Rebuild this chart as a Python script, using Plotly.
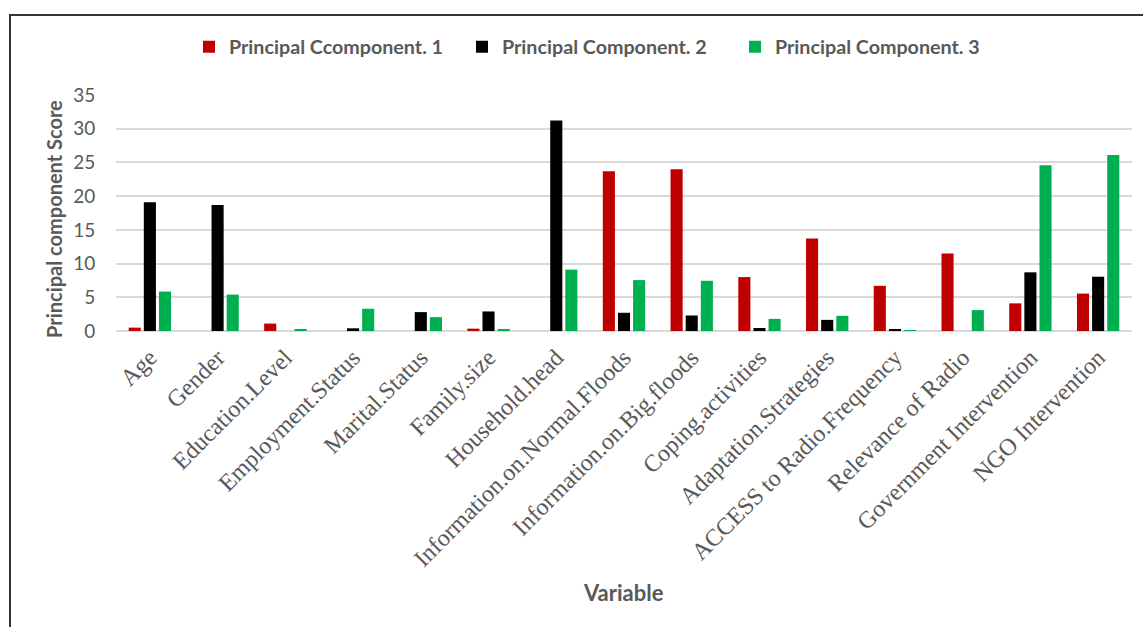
import plotly.graph_objects as go

categories = ["Age", "Gender", "Education.Level", "Employment.Status", "Marital.Status",
              "Family.size", "Household.head", "Information.on.Normal.Floods",
              "Information.on.Big.floods", "Coping.activities", "Adaptation.Strategies",
              "ACCESS to Radio.Frequency", "Relevance of Radio", "Government Intervention",
              "NGO Intervention"]
pc1 = [0.5, 0, 1.1, 0, 0, 0.35, 0, 23.7, 24.0, 8.0, 13.7, 6.7, 11.5, 4.1, 5.55]
pc2 = [19.1, 18.7, 0, 0.4, 2.8, 2.9, 31.2, 2.7, 2.3, 0.45, 1.65, 0.25, 0, 8.7, 8.05]
pc3 = [5.85, 5.4, 0.25, 3.3, 2.05, 0.25, 9.1, 7.55, 7.45, 1.8, 2.25, 0.05, 3.1, 24.6, 26.1]
series_names = ["Principal Ccomponent. 1", "Principal Component. 2", "Principal Component. 3"]
colors = ["#C00000", "#000000", "#00B050"]
y_ticks = [0, 5, 10, 15, 20, 25, 30, 35]

W, H = 1143, 627
L, R, T, B = 116, 11, 95, 296
pw, ph = W - L - R, H - T - B

def px_x(x):
    return (x - L) / pw

def px_y(y):
    return (H - B - y) / ph

gray = "#595959"
fig = go.Figure()
for name, vals, col in zip(series_names, [pc1, pc2, pc3], colors):
    fig.add_trace(go.Bar(x=categories, y=vals, name=name, marker_color=col,
                         marker_line_width=0))

fig.update_layout(
    width=W, height=H,
    margin=dict(l=L, r=R, t=T, b=B),
    paper_bgcolor="white", plot_bgcolor="white",
    barmode="group", bargap=0.33, bargroupgap=0.2,
    showlegend=True,
    legend=dict(orientation="h", x=px_x(189), xanchor="left",
                y=px_y(47), yanchor="middle", entrywidth=228, entrywidthmode="pixels",
                font=dict(family="Lato", size=19.7, color=gray, weight="bold"),
                bgcolor="rgba(0,0,0,0)"),
    xaxis=dict(tickangle=-45, tickfont=dict(family="Liberation Serif", size=24, color=gray),
               showgrid=False, showline=False, ticks="outside", ticklen=2,
               tickcolor="rgba(0,0,0,0)"),
    yaxis=dict(range=[0, 35], tickvals=y_ticks, showgrid=True, gridcolor="#d9d9d9",
               gridwidth=1.5, zeroline=True, zerolinecolor="#d9d9d9", zerolinewidth=1.5,
               tickfont=dict(family="Lato", size=19, color=gray),
               ticks="outside", ticklen=16, tickcolor="rgba(0,0,0,0)"),
    annotations=[
        dict(text="Principal component Score", x=px_x(54), y=px_y(219), xref="paper", yref="paper",
             textangle=-90, showarrow=False, xanchor="center", yanchor="middle",
             font=dict(family="Lato", size=20, color=gray, weight="bold")),
        dict(text="Variable", x=px_x(623), y=px_y(592), xref="paper", yref="paper",
             showarrow=False, xanchor="center", yanchor="middle",
             font=dict(family="Lato", size=22, color=gray, weight="bold")),
    ],
    shapes=[dict(type="rect", xref="paper", yref="paper",
                 x0=px_x(10), x1=px_x(1160), y0=px_y(15), y1=px_y(660),
                 line=dict(color="#333333", width=2), fillcolor="rgba(0,0,0,0)", layer="below")],
)

fig.write_html("out.html")
